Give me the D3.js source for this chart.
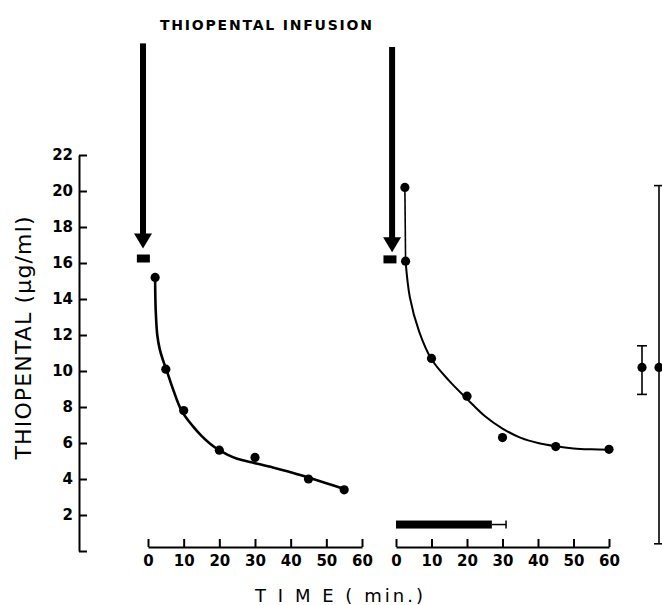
<!DOCTYPE html>
<html>
<head>
<meta charset="utf-8">
<script src="https://cdn.jsdelivr.net/npm/d3@7"></script>
<style>
    body { margin: 0; background: #fff; }
    svg { display: block; }
    .tick text { font-family: "DejaVu Sans", sans-serif; font-weight: bold; font-size: 15px; fill: #000; }
    .domain, .tick line { stroke: #000; stroke-width: 2; }
</style>
</head>
<body>
<div id="chart"></div>
<script>
// measured points, left run
const leftTimes = [2, 5, 10, 20, 30, 45, 55];
const leftValues = [15.2, 10.1, 7.8, 5.6, 5.2, 4.0, 3.4];
// hand drawn fit, left run
const leftFitTimes = [2, 2.05, 2.2, 2.6, 3.3, 4.2, 5.2, 7, 9.4, 12.5, 15, 17.5, 20, 22.5, 25, 30, 35, 40, 45, 50, 55];
const leftFitValues = [15.2, 14.2, 13.2, 12.0, 11.2, 10.6, 10.05, 9.0, 7.8, 6.95, 6.4, 5.95, 5.6, 5.33, 5.12, 4.88, 4.64, 4.38, 4.08, 3.77, 3.45];

// measured points, right run
const rightTimes = [2.5, 2.7, 10, 20, 30, 45, 60];
const rightValues = [20.2, 16.1, 10.7, 8.6, 6.3, 5.8, 5.65];
const rightFitTimes = [2.7, 3.9, 6.5, 10, 15, 20, 25, 30, 35, 40, 45, 50, 55, 60];
const rightFitValues = [16.1, 14.1, 12.2, 10.65, 9.45, 8.45, 7.5, 6.8, 6.3, 6.0, 5.82, 5.7, 5.65, 5.63];

// infusion arrows and pre-infusion samples
const arrowTimes = [-1.4, -1.1];
const arrowTop = [28.2, 28.0];
const arrowTip = [16.8, 16.6];
const squareTimes = [-1.3, -1.7];
const squareValues = [16.25, 16.2];

// horizontal bar under the right run
const barStart = 0, barEnd = 27, barErrEnd = 31, barLevel = 1.47;

// summary points at the right edge
const summaryCats = ["mean", "range"];
const summaryValues = [10.2, 10.2];
const summaryLow = [8.7, 0.4];
const summaryHigh = [11.4, 20.3];

const timeTicks = [0, 10, 20, 30, 40, 50, 60];
const concTicks = [0, 2, 4, 6, 8, 10, 12, 14, 16, 18, 20, 22];

const width = 662, height = 605;

const svg = d3.select("#chart")
    .append("svg")
    .attr("width", width)
    .attr("height", height);

const y = d3.scaleLinear().domain([0, 22]).range([551, 155]);
const xLeft = d3.scaleLinear().domain([0, 60]).range([148, 362]);
const xRight = d3.scaleLinear().domain([0, 60]).range([396, 609]);
const xSum = d3.scalePoint().domain(summaryCats).range([642, 659]);

// y axis
svg.append("g")
    .attr("transform", "translate(79,0)")
    .call(d3.axisLeft(y)
        .tickValues(concTicks)
        .tickSizeInner(-8)
        .tickSizeOuter(0)
        .tickPadding(6)
        .tickFormat(d => d === 0 ? "" : d));

// x axes
[xLeft, xRight].forEach(x => {
    svg.append("g")
        .attr("transform", "translate(0,547)")
        .call(d3.axisBottom(x)
            .tickValues(timeTicks)
            .tickSizeInner(-8)
            .tickSizeOuter(0)
            .tickPadding(8));
});

svg.append("text")
    .attr("x", 266)
    .attr("y", 30)
    .attr("textLength", 212)
    .attr("lengthAdjust", "spacing")
    .style("font-family", "DejaVu Sans, sans-serif")
    .style("font-weight", "bold")
    .style("font-size", "14px")
    .attr("text-anchor", "middle")
    .text("THIOPENTAL  INFUSION");

svg.append("text")
    .attr("transform", "translate(31,338) rotate(-90)")
    .attr("textLength", 243)
    .attr("lengthAdjust", "spacing")
    .attr("text-anchor", "middle")
    .style("font-family", "DejaVu Sans, sans-serif")
    .style("font-size", "22px")
    .text("THIOPENTAL (\u03bcg/ml)");

svg.append("text")
    .attr("x", 339)
    .attr("y", 602)
    .attr("textLength", 168)
    .attr("lengthAdjust", "spacing")
    .attr("text-anchor", "middle")
    .style("font-family", "DejaVu Sans, sans-serif")
    .style("font-size", "18px")
    .text("T I M E ( min.)");

const line = x => d3.line()
    .x(d => x(d[0]))
    .y(d => y(d[1]))
    .curve(d3.curveCatmullRom.alpha(0.5));

svg.append("path")
    .datum(leftFitTimes.map((t, i) => [t, leftFitValues[i]]))
    .attr("fill", "none")
    .attr("stroke", "#000")
    .attr("stroke-width", 2.6)
    .attr("d", line(xLeft));

svg.append("path")
    .datum(rightFitTimes.map((t, i) => [t, rightFitValues[i]]))
    .attr("fill", "none")
    .attr("stroke", "#000")
    .attr("stroke-width", 2)
    .attr("d", line(xRight));

// the thin drop between the first two samples of the right run
svg.append("line")
    .attr("x1", xRight(rightTimes[0])).attr("x2", xRight(rightTimes[1]))
    .attr("y1", y(rightValues[0])).attr("y2", y(rightValues[1]))
    .attr("stroke", "#000").attr("stroke-width", 1.6);

const dots = (x, times, values) => {
    svg.append("g")
        .selectAll("circle")
        .data(times.map((t, i) => [t, values[i]]))
        .enter()
        .append("circle")
        .attr("cx", d => x(d[0]))
        .attr("cy", d => y(d[1]))
        .attr("r", 4.6)
        .attr("fill", "#000");
};
dots(xLeft, leftTimes, leftValues);
dots(xRight, rightTimes, rightValues);

// arrows + squares
const panels = [xLeft, xRight];
arrowTimes.forEach((t, i) => {
    const x = panels[i];
    const cx = x(t);
    const tip = y(arrowTip[i]);
    svg.append("rect")
        .attr("x", cx - 3)
        .attr("y", y(arrowTop[i]))
        .attr("width", 6)
        .attr("height", tip - 14 - y(arrowTop[i]))
        .attr("fill", "#000");
    svg.append("path")
        .attr("d", `M${cx - 9},${tip - 15} L${cx + 9},${tip - 15} L${cx},${tip} Z`)
        .attr("fill", "#000");
});
squareTimes.forEach((t, i) => {
    const x = panels[i];
    svg.append("rect")
        .attr("x", x(t) - 6.5)
        .attr("y", y(squareValues[i]) - 4)
        .attr("width", 13)
        .attr("height", 8)
        .attr("fill", "#000");
});

// bar
svg.append("rect")
    .attr("x", xRight(barStart))
    .attr("y", y(barLevel) - 4)
    .attr("width", xRight(barEnd) - xRight(barStart))
    .attr("height", 8)
    .attr("fill", "#000");
svg.append("line")
    .attr("x1", xRight(barEnd)).attr("x2", xRight(barErrEnd))
    .attr("y1", y(barLevel)).attr("y2", y(barLevel))
    .attr("stroke", "#000").attr("stroke-width", 1.5);
svg.append("line")
    .attr("x1", xRight(barErrEnd)).attr("x2", xRight(barErrEnd))
    .attr("y1", y(barLevel) - 4).attr("y2", y(barLevel) + 4)
    .attr("stroke", "#000").attr("stroke-width", 1.5);

// summary error bars
summaryCats.forEach((c, i) => {
    const cx = xSum(c);
    const g = svg.append("g").attr("stroke", "#000").attr("stroke-width", 1.6);
    g.append("line").attr("x1", cx).attr("x2", cx)
        .attr("y1", y(summaryLow[i])).attr("y2", y(summaryHigh[i]));
    [summaryLow[i], summaryHigh[i]].forEach(v => {
        g.append("line").attr("x1", cx - 5).attr("x2", cx + 5)
            .attr("y1", y(v)).attr("y2", y(v));
    });
    svg.append("circle")
        .attr("cx", cx)
        .attr("cy", y(summaryValues[i]))
        .attr("r", 4.6)
        .attr("fill", "#000");
});
</script>
</body>
</html>
